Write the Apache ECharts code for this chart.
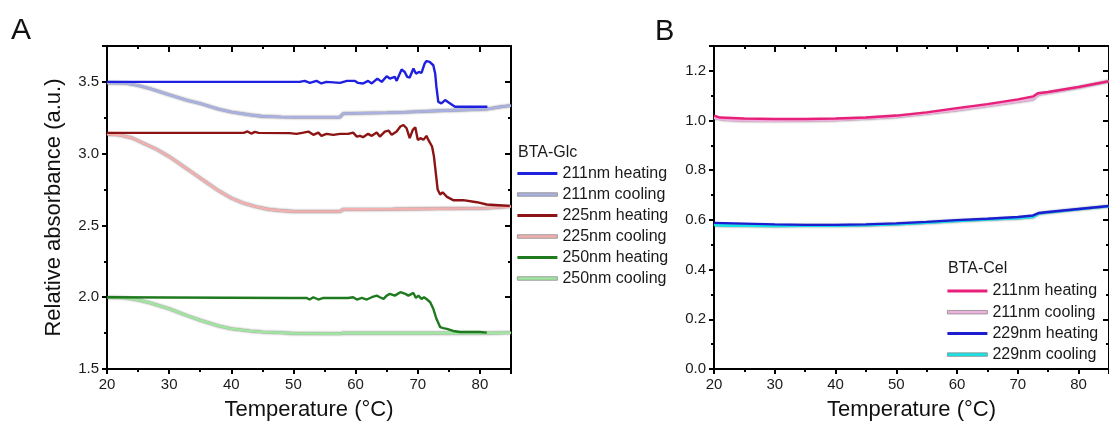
<!DOCTYPE html>
<html><head><meta charset="utf-8">
<script src="https://cdn.jsdelivr.net/npm/echarts@6/dist/echarts.min.js"></script>
<style>html,body{margin:0;padding:0;background:#fff}#c{width:1109px;height:426px}</style>
</head><body><div id="c"></div>
<script>
// ---------- Panel A: BTA-Glc ----------
const namesA = ['211nm heating','211nm cooling','225nm heating','225nm cooling','250nm heating','250nm cooling'];
const a211heat = [[20,3.5],[49.4,3.5],[51.0,3.5],[51.8,3.507],[52.65,3.493],[53.7,3.507],[54.5,3.489],[55.3,3.5],[57.5,3.493],[58.6,3.507],[59.9,3.507],[60.4,3.493],[61.2,3.489],[62.0,3.507],[62.6,3.489],[63.5,3.523],[64.2,3.5],[65.0,3.539],[65.5,3.523],[66.3,3.535],[66.6,3.507],[67.4,3.586],[67.9,3.569],[68.3,3.535],[68.7,3.530],[69.3,3.593],[69.7,3.558],[70.2,3.569],[70.6,3.562],[71.1,3.627],[71.4,3.645],[71.9,3.639],[72.5,3.616],[72.8,3.558],[73.0,3.465],[73.3,3.361],[73.8,3.350],[74.4,3.373],[75.2,3.350],[76.0,3.327],[81.2,3.327]];
const a211cool = [[20,3.493],[23,3.49],[25,3.475],[27,3.452],[30,3.41],[33,3.37],[35,3.35],[38,3.31],[40,3.29],[43,3.27],[45,3.26],[48,3.255],[50,3.254],[57.5,3.254],[58,3.28],[65,3.285],[67.8,3.288],[68,3.295],[74,3.30],[81,3.31],[83,3.324],[85,3.335]];
const a225heat = [[20,3.145],[42,3.145],[42.6,3.155],[43.2,3.14],[43.8,3.152],[44.4,3.145],[49.4,3.143],[50.5,3.138],[51.6,3.147],[52.4,3.154],[53.2,3.131],[54.0,3.147],[54.5,3.124],[55.3,3.138],[56.4,3.131],[57.5,3.138],[58.8,3.138],[59.6,3.147],[60.2,3.119],[60.7,3.124],[61.2,3.115],[62.0,3.138],[62.6,3.124],[63.4,3.147],[63.9,3.119],[64.7,3.154],[65.3,3.161],[65.8,3.131],[66.6,3.154],[67.2,3.189],[67.7,3.2],[68.2,3.177],[68.7,3.108],[69.2,3.166],[69.6,3.184],[70.0,3.096],[70.5,3.108],[70.9,3.096],[71.4,3.124],[71.7,3.096],[72.3,3.05],[72.6,2.981],[72.9,2.866],[73.2,2.75],[73.6,2.715],[74.0,2.731],[74.7,2.699],[75.7,2.676],[77.3,2.676],[79.5,2.662],[81.1,2.646],[83.7,2.639],[84.8,2.636]];
const a225cool = [[20,3.136],[22,3.13],[24,3.11],[26,3.07],[28,3.03],[30,2.98],[32,2.92],[34,2.86],[36,2.80],[38,2.74],[40,2.69],[42,2.655],[44,2.63],[46,2.612],[48,2.603],[50,2.598],[57.5,2.597],[58,2.612],[66,2.614],[66.3,2.62],[81,2.62],[85,2.632]];
const a250heat = [[20,2.0],[49.4,1.995],[52.1,1.995],[52.6,1.984],[53.2,2.0],[54.0,1.984],[54.8,1.995],[57.5,1.995],[58.8,1.995],[59.6,2.0],[60.2,1.984],[61.0,1.995],[61.8,1.984],[62.6,2.0],[63.4,2.011],[63.9,2.0],[64.5,1.988],[65.0,2.011],[65.5,2.023],[66.3,2.011],[67.2,2.035],[68.0,2.023],[68.5,2.011],[69.3,2.03],[69.7,1.995],[70.1,2.011],[70.6,1.988],[71.0,2.0],[71.5,1.984],[72.0,1.965],[72.5,1.919],[73.0,1.85],[73.6,1.792],[74.1,1.785],[74.7,1.78],[75.7,1.765],[76.8,1.758],[80.0,1.758],[81.1,1.753]];
const a250cool = [[20,2.0],[23,1.995],[25,1.98],[27,1.96],[30,1.92],[33,1.87],[35,1.84],[38,1.80],[40,1.78],[43,1.765],[45,1.758],[48,1.752],[50,1.748],[57.5,1.746],[58,1.75],[81,1.75],[85,1.752]];

// ---------- Panel B: BTA-Cel ----------
const namesB = ['211nm heating ','211nm cooling ','229nm heating','229nm cooling'];
const b211heat = [[20,1.02],[21,1.012],[25,1.008],[30,1.006],[35,1.006],[40,1.008],[45,1.012],[50,1.02],[55,1.033],[60,1.05],[65,1.066],[70,1.085],[72.5,1.097],[73.3,1.11],[75,1.115],[80,1.135],[85,1.158]];
const b211cool = [[20,1.01],[22,1.003],[25,1.0],[30,0.999],[35,1.0],[40,1.002],[45,1.008],[50,1.015],[55,1.028],[60,1.043],[65,1.06],[70,1.077],[72.5,1.086],[73.3,1.105],[75,1.112],[80,1.133],[85,1.158]];
const b229heat = [[20,0.588],[25,0.585],[30,0.582],[35,0.58],[40,0.58],[45,0.582],[50,0.586],[55,0.592],[60,0.599],[65,0.605],[70,0.612],[72.5,0.618],[73.5,0.628],[75,0.632],[80,0.644],[85,0.656]];
const b229cool = [[20,0.58],[22,0.577],[25,0.577],[30,0.576],[35,0.577],[40,0.577],[45,0.579],[50,0.583],[55,0.589],[60,0.596],[65,0.602],[70,0.607],[72.5,0.612],[73.5,0.626],[75,0.63],[80,0.643],[85,0.655]];

const FONT = 'Liberation Sans, Arial, sans-serif';
const chart = echarts.init(document.getElementById('c'));

function bottomAxis(grid){
  return {type:'value', gridIndex:grid, position:'bottom', min:20, max:85, interval:10,
    axisLine:{show:true, onZero:false, lineStyle:{color:'#000', width:2}},
    axisTick:{show:true, inside:false, length:5, lineStyle:{color:'#000', width:2}},
    minorTick:{show:true, splitNumber:2, length:3, lineStyle:{color:'#000', width:2}},
    axisLabel:{color:'#1a1a1a', fontSize:15, fontFamily:FONT, margin:8, showMaxLabel:false},
    splitLine:{show:false},
    name:'Temperature (°C)', nameLocation:'middle', nameGap:30,
    nameTextStyle:{fontSize:22, color:'#111', fontFamily:FONT}};
}
function topAxis(grid){
  return {type:'value', gridIndex:grid, position:'top', min:20, max:85, interval:10,
    axisLine:{show:true, onZero:false, lineStyle:{color:'#000', width:2}},
    axisTick:{show:true, inside:true, length:6, lineStyle:{color:'#000', width:2}},
    minorTick:{show:true, splitNumber:2, length:3, lineStyle:{color:'#000', width:2}},
    axisLabel:{show:false}, splitLine:{show:false}};
}
function leftAxis(grid, min, max, interval, name){
  const ax = {type:'value', gridIndex:grid, position:'left', min:min, max:max, interval:interval,
    axisLine:{show:true, onZero:false, lineStyle:{color:'#000', width:2}},
    axisTick:{show:true, inside:false, length:5, lineStyle:{color:'#000', width:2}},
    minorTick:{show:true, splitNumber:2, length:3, lineStyle:{color:'#000', width:2}},
    axisLabel:{color:'#1a1a1a', fontSize:15, fontFamily:FONT, margin:8, showMaxLabel:false,
      formatter:(v)=>v.toFixed(1)},
    splitLine:{show:false}};
  if(name){ ax.name=name; ax.nameLocation='middle'; ax.nameGap=42;
    ax.nameTextStyle={fontSize:22, color:'#111', fontFamily:FONT}; }
  return ax;
}
function rightAxis(grid, min, max, interval){
  return {type:'value', gridIndex:grid, position:'right', min:min, max:max, interval:interval,
    axisLine:{show:true, onZero:false, lineStyle:{color:'#000', width:2}},
    axisTick:{show:true, inside:true, length:6, lineStyle:{color:'#000', width:2}},
    minorTick:{show:true, splitNumber:2, length:3, lineStyle:{color:'#000', width:2}},
    axisLabel:{show:false}, splitLine:{show:false}};
}
function heat(name, data, color, xi, yi){
  return {name:name, type:'line', data:data, xAxisIndex:xi, yAxisIndex:yi, symbol:'none',
    lineStyle:{color:color, width:2.4}, itemStyle:{color:color}, z:3, animation:false};
}
function cool(name, data, color, xi, yi){
  return {name:name, type:'line', data:data, xAxisIndex:xi, yAxisIndex:yi, symbol:'none',
    lineStyle:{color:color, width:2.6, shadowColor:'rgba(90,90,90,0.9)', shadowBlur:2},
    itemStyle:{color:color}, z:2, animation:false};
}
const HEAT_ICON = 'path://M0,0 L40,0 L40,3 L0,3 Z';
const COOL_ICON = 'path://M0,0 L40,0 L40,3.5 L0,3.5 Z';
function legendItems(names){
  return names.map(n => n.indexOf('cooling') >= 0
    ? {name:n, icon:COOL_ICON, itemStyle:{borderColor:'#8c8c8c', borderWidth:0.8}}
    : {name:n, icon:HEAT_ICON});
}

const legendCommon = {orient:'vertical', itemWidth:40, itemHeight:14, itemGap:5,
  textStyle:{fontSize:16, color:'#1a1a1a', fontFamily:FONT, lineHeight:16}, selectedMode:false, padding:0};

chart.setOption({
  animation:false,
  grid:[{left:107, top:46, width:404, bottom:54.3},
        {left:714, top:46, width:403, bottom:54.3}],
  xAxis:[bottomAxis(0), topAxis(0), bottomAxis(1), topAxis(1)],
  yAxis:[leftAxis(0,1.5,3.75,0.5,'Relative absorbance (a.u.)'), rightAxis(0,1.5,3.75,0.5),
         leftAxis(1,0,1.3,0.2,null), rightAxis(1,0,1.3,0.2)],
  legend:[
    Object.assign({}, legendCommon, {data:legendItems(namesA), left:517, top:165.5}),
    Object.assign({}, legendCommon, {data:legendItems(namesB), left:947, top:283, itemGap:5.2})
  ],
  graphic:[
    {type:'text', left:11, top:16, style:{text:'A', fontSize:30, fill:'#111', fontFamily:FONT}},
    {type:'text', left:655, top:17, style:{text:'B', fontSize:29, fill:'#111', fontFamily:FONT}},
    {type:'text', left:518, top:145, style:{text:'BTA-Glc', fontSize:16, fill:'#1a1a1a', fontFamily:FONT}},
    {type:'text', left:948, top:261, style:{text:'BTA-Cel', fontSize:16, fill:'#1a1a1a', fontFamily:FONT}}
  ],
  series:[
    cool(namesA[1], a211cool, '#aab0e0', 0, 0),
    cool(namesA[3], a225cool, '#f2b0b0', 0, 0),
    cool(namesA[5], a250cool, '#a0e6a0', 0, 0),
    heat(namesA[0], a211heat, '#1f1fe0', 0, 0),
    heat(namesA[2], a225heat, '#8c1414', 0, 0),
    heat(namesA[4], a250heat, '#1f7a1f', 0, 0),
    cool(namesB[1], b211cool, '#eeb0dc', 2, 2),
    cool(namesB[3], b229cool, '#18e4e8', 2, 2),
    heat(namesB[0], b211heat, '#e8207a', 2, 2),
    heat(namesB[2], b229heat, '#1c1cd0', 2, 2)
  ]
});
</script></body></html>
